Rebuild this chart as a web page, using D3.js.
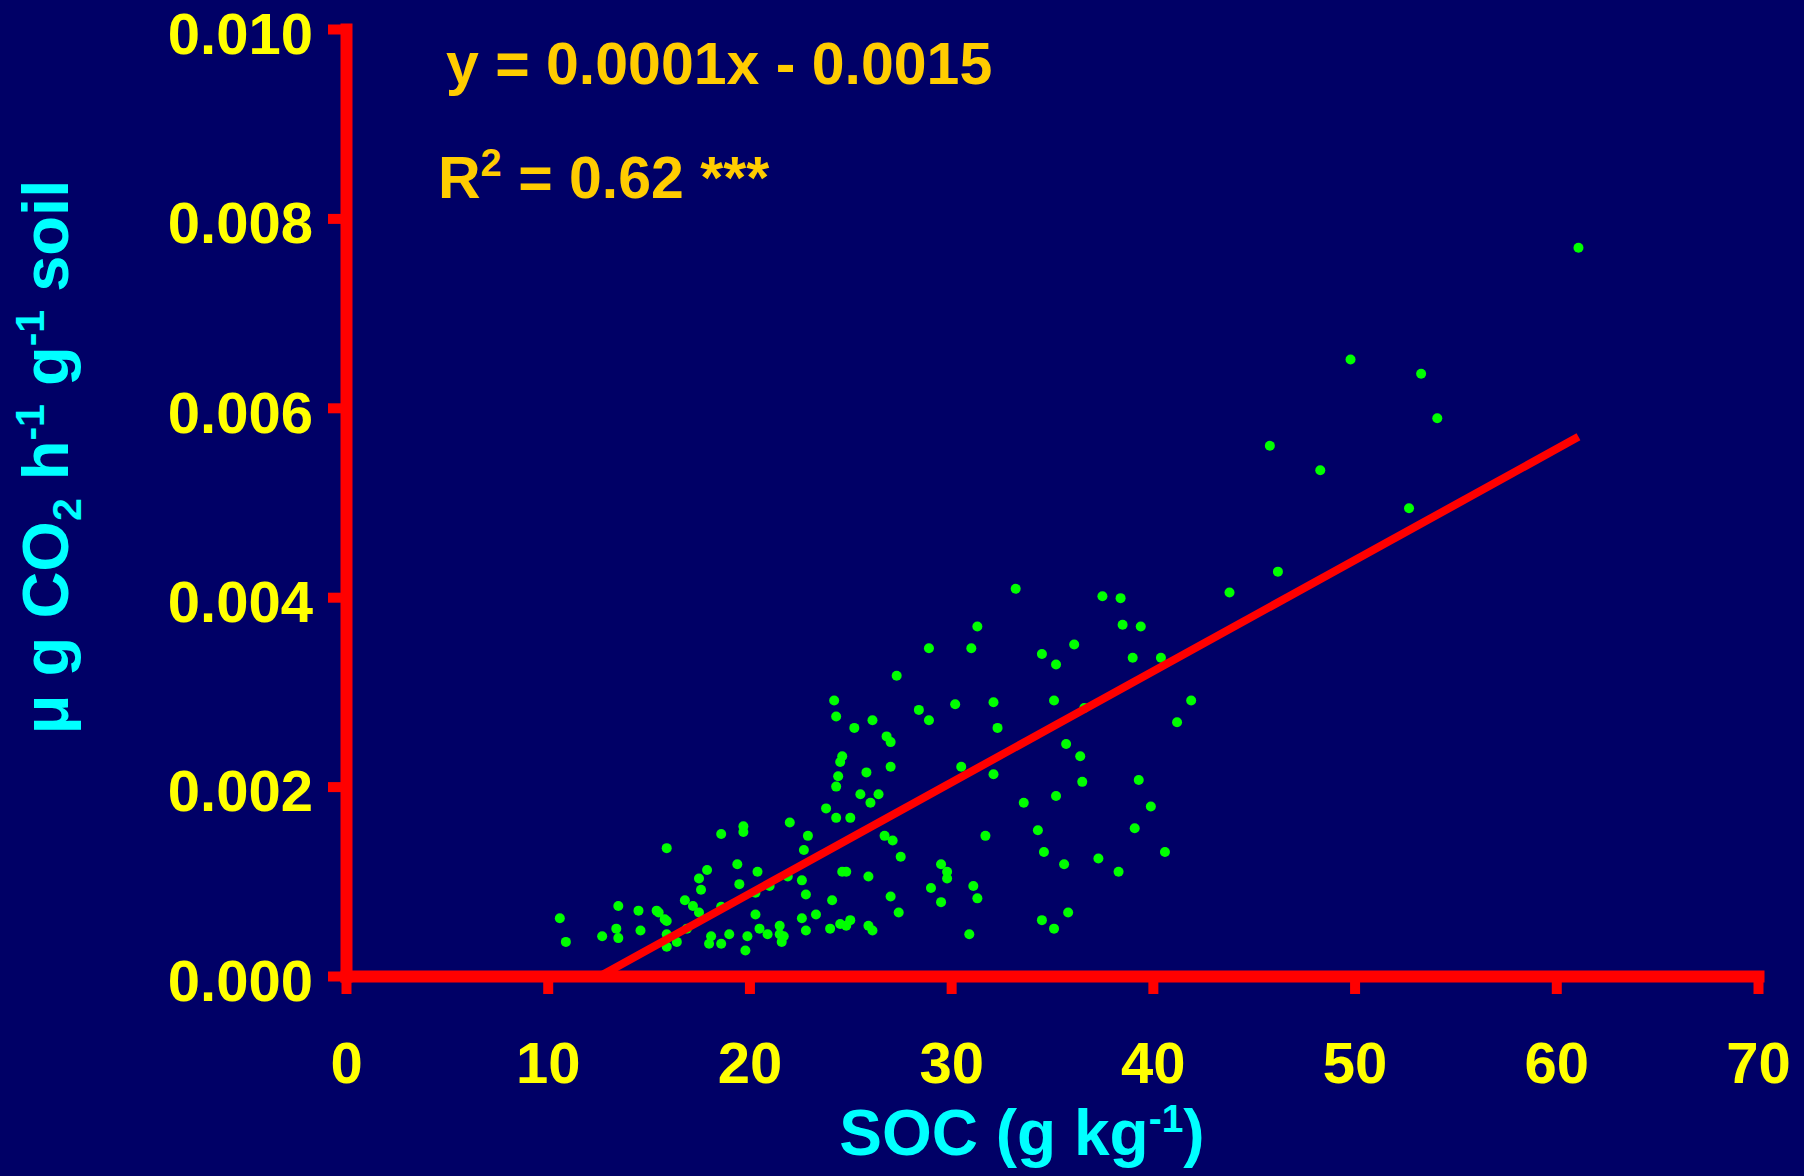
<!DOCTYPE html>
<html>
<head>
<meta charset="utf-8">
<script src="https://cdn.jsdelivr.net/npm/d3@7"></script>
<style>
  html, body { margin: 0; padding: 0; background: #000066; }
  svg { display: block; }
  text { font-family: "Liberation Sans", Arial, Helvetica, sans-serif; font-weight: bold; }
</style>
</head>
<body>
<svg id="chart" width="1804" height="1176"></svg>
<script>
// Soil organic carbon (g kg-1) for each sample
const soc = [
  31.3, 28.9, 31.0, 27.3, 24.2, 24.3, 28.4, 28.9, 30.2, 26.1,
  25.2, 26.8, 27.0, 24.6, 24.5, 25.8, 27.0, 30.5, 33.2, 37.5,
  38.4, 38.5, 39.4, 36.1, 34.5, 35.2, 39.0, 40.4, 32.1, 35.1,
  36.6, 41.9, 41.2, 32.3, 35.7, 36.4, 10.6, 10.9, 12.7, 13.4,
  13.5, 13.5, 14.5, 14.6, 15.4, 15.5, 15.8, 15.9, 15.9, 15.9,
  15.9, 16.4, 16.8, 17.2, 17.5, 17.5, 17.6, 17.9, 18.6, 19.7,
  19.7, 19.4, 19.5, 20.4, 20.3, 21.0, 18.6, 16.9, 18.1, 18.0,
  18.6, 19.0, 19.9, 19.8, 20.3, 20.5, 20.9, 24.4, 24.3, 25.5,
  26.4, 26.0, 23.8, 24.3, 25.0, 22.0, 22.9, 22.7, 26.7, 27.1,
  27.5, 21.9, 22.6, 22.8, 24.1, 24.6, 24.8, 25.9, 23.3, 22.6,
  21.5, 21.5, 21.7, 21.6, 22.8, 24.0, 24.5, 24.8, 25.0, 25.9,
  26.1, 27.0, 27.4, 29.0, 29.5, 29.8, 29.8, 29.5, 31.1, 31.3,
  31.7, 30.9, 32.1, 36.5, 39.3, 35.2, 33.6, 39.9, 34.3, 39.1,
  34.6, 35.6, 37.3, 38.3, 40.6, 35.8, 34.5, 35.1, 61.1, 49.8,
  53.3, 54.1, 45.8, 48.3, 52.7, 43.8, 46.2
];

// Respiration rate (µg CO2 h-1 g-1 soil) for the same samples
const respiration = [
  0.00369, 0.00346, 0.00346, 0.00317, 0.00291, 0.00274, 0.00281, 0.00270, 0.00287, 0.00270,
  0.00262, 0.00253, 0.00247, 0.00232, 0.00226, 0.00215, 0.00221, 0.00221, 0.00409, 0.00401,
  0.00399, 0.00371, 0.00369, 0.00350, 0.00340, 0.00329, 0.00336, 0.00336, 0.00289, 0.00291,
  0.00283, 0.00291, 0.00268, 0.00262, 0.00245, 0.00232, 0.00061, 0.00036, 0.00042, 0.00050,
  0.00040, 0.00074, 0.00069, 0.00048, 0.00069, 0.00067, 0.00060, 0.00058, 0.00135, 0.00044,
  0.00031, 0.00036, 0.00080, 0.00074, 0.00067, 0.00103, 0.00091, 0.00112, 0.00150, 0.00158,
  0.00152, 0.00118, 0.00097, 0.00110, 0.00088, 0.00095, 0.00073, 0.00050, 0.00042, 0.00034,
  0.00034, 0.00044, 0.00042, 0.00027, 0.00065, 0.00050, 0.00044, 0.00211, 0.00200, 0.00192,
  0.00192, 0.00183, 0.00177, 0.00167, 0.00167, 0.00162, 0.00148, 0.00133, 0.00148, 0.00143,
  0.00126, 0.00105, 0.00101, 0.00086, 0.00080, 0.00110, 0.00110, 0.00105, 0.00065, 0.00061,
  0.00053, 0.00044, 0.00042, 0.00036, 0.00048, 0.00050, 0.00055, 0.00053, 0.00059, 0.00053,
  0.00048, 0.00084, 0.00067, 0.00093, 0.00118, 0.00110, 0.00103, 0.00078, 0.00095, 0.00082,
  0.00148, 0.00044, 0.00213, 0.00205, 0.00207, 0.00190, 0.00183, 0.00179, 0.00154, 0.00156,
  0.00131, 0.00118, 0.00124, 0.00110, 0.00131, 0.00067, 0.00059, 0.00050, 0.00769, 0.00651,
  0.00636, 0.00589, 0.00560, 0.00534, 0.00494, 0.00405, 0.00427
];

const xTicks = [0, 10, 20, 30, 40, 50, 60, 70];
const yTicks = [0, 0.002, 0.004, 0.006, 0.008, 0.010];

// Linear fit of respiration against SOC
const fitSlope = 0.0001174;
const fitIntercept = -0.00148;
const rSquared = 0.62;
const significance = "***";

const svg = d3.select("#chart");
const W = 1804, H = 1176;

svg.append("rect").attr("width", W).attr("height", H).attr("fill", "#000066");

const x = d3.scaleLinear().domain([0, 70]).range([346, 1758]);
const y = d3.scaleLinear().domain([0, 0.010]).range([976, 29]);

const points = soc.map((s, i) => ({ soc: s, resp: respiration[i] }));

// Scatter of samples
svg.append("g")
  .selectAll("circle")
  .data(points)
  .join("circle")
  .attr("cx", d => x(d.soc))
  .attr("cy", d => y(d.resp))
  .attr("r", 5)
  .attr("fill", "#00ff00");

// Regression line from its x-intercept to the largest SOC value
const xStart = -fitIntercept / fitSlope;
const xEnd = d3.max(soc);
svg.append("line")
  .attr("x1", x(xStart)).attr("y1", y(fitSlope * xStart + fitIntercept))
  .attr("x2", x(xEnd)).attr("y2", y(fitSlope * xEnd + fitIntercept))
  .attr("stroke", "#ff0000")
  .attr("stroke-width", 8);

// Axes
const xAxis = d3.axisBottom(x)
  .tickValues(xTicks)
  .tickFormat(d3.format("d"))
  .tickSize(18)
  .tickSizeOuter(0)
  .tickPadding(48);

const yAxis = d3.axisLeft(y)
  .tickValues(yTicks)
  .tickFormat(d3.format(".3f"))
  .tickSize(18)
  .tickSizeOuter(0)
  .tickPadding(15);

function styleAxis(g) {
  g.select(".domain")
    .attr("stroke", "#ff0000")
    .attr("stroke-width", 12)
    .attr("stroke-linecap", "square");
  g.selectAll(".tick line")
    .attr("stroke", "#ff0000")
    .attr("stroke-width", 10);
  g.selectAll(".tick text")
    .attr("fill", "#ffff00")
    .style("font-size", "58px")
    .style("font-family", "'Liberation Sans', Arial, sans-serif")
    .style("font-weight", "bold");
}

svg.append("g")
  .attr("transform", `translate(0,${y(0)})`)
  .call(xAxis)
  .call(styleAxis);

svg.append("g")
  .attr("transform", `translate(${x(0)},0)`)
  .call(yAxis)
  .call(styleAxis)
  .call(g => g.selectAll(".tick text").attr("dy", "0.42em"));

// Axis titles
const xTitle = svg.append("text")
  .attr("x", 1022).attr("y", 1155)
  .attr("text-anchor", "middle")
  .attr("fill", "#00ffff")
  .style("font-size", "64px");
xTitle.append("tspan").text("SOC (g kg");
xTitle.append("tspan").attr("dy", -23).style("font-size", "39px").text("-1");
xTitle.append("tspan").attr("dy", 23).text(")");

const yTitle = svg.append("text")
  .attr("transform", "translate(68,457) rotate(-90)")
  .attr("text-anchor", "middle")
  .attr("fill", "#00ffff")
  .style("font-size", "65px");
yTitle.append("tspan").text("\u03bc g CO");
yTitle.append("tspan").attr("dy", 13).style("font-size", "41px").text("2");
yTitle.append("tspan").attr("dy", -13).text(" h");
yTitle.append("tspan").attr("dy", -24).style("font-size", "41px").text("-1");
yTitle.append("tspan").attr("dy", 24).text(" g");
yTitle.append("tspan").attr("dy", -24).style("font-size", "41px").text("-1");
yTitle.append("tspan").attr("dy", 24).text(" soil");

// Fit equation and coefficient of determination
const sign = fitIntercept < 0 ? " - " : " + ";
svg.append("text")
  .attr("x", 446).attr("y", 84)
  .attr("fill", "#ffcc00")
  .style("font-size", "59px")
  .text(`y = ${fitSlope.toFixed(4)}x${sign}${Math.abs(fitIntercept).toFixed(4)}`);

const r2 = svg.append("text")
  .attr("x", 438).attr("y", 198)
  .attr("fill", "#ffcc00")
  .style("font-size", "59px");
r2.append("tspan").text("R");
r2.append("tspan").attr("dy", -22).style("font-size", "38px").text("2");
r2.append("tspan").attr("dy", 22).text(` = ${rSquared.toFixed(2)} ${significance}`);
</script>
</body>
</html>
